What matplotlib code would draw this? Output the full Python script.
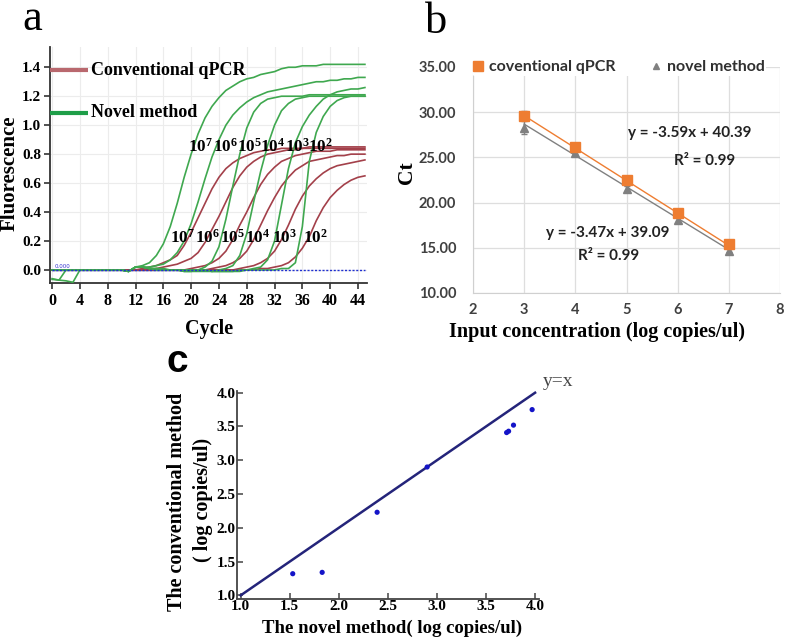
import matplotlib
matplotlib.use("Agg")
import matplotlib.pyplot as plt
from matplotlib.lines import Line2D

plt.rcParams['font.family'] = ['Liberation Serif', 'DejaVu Serif']
plt.rcParams['mathtext.fontset'] = 'custom'
plt.rcParams['mathtext.rm'] = 'Liberation Serif'
plt.rcParams['mathtext.bf'] = 'Liberation Serif:bold'

# ---------------- Panel a: amplification curves ----------------
cycles = list(range(46))

novel_curves = {
    "1e7": [0.0] * 11 + [-0.01, 0.02, 0.03, 0.05, 0.10, 0.18, 0.30, 0.46, 0.64, 0.80, 0.94, 1.05, 1.13, 1.19,
                         1.24, 1.27, 1.30, 1.32, 1.33, 1.35, 1.36, 1.37, 1.39, 1.40, 1.40, 1.41, 1.41, 1.41,
                         1.42, 1.42, 1.42, 1.42, 1.42, 1.42, 1.42],
    "1e6": [0.0] * 11 + [-0.01, 0.02, 0.02, 0.02, 0.03, 0.04, 0.07, 0.12, 0.20, 0.32, 0.47, 0.63, 0.78, 0.90,
                         1.00, 1.07, 1.12, 1.16, 1.19, 1.21, 1.23, 1.24, 1.25, 1.26, 1.27, 1.28, 1.29, 1.30,
                         1.30, 1.31, 1.31, 1.32, 1.32, 1.33, 1.33],
    "1e5": [0.0] * 11 + [-0.01, 0.02, 0.02, 0.01, 0.01, 0.01, 0.0, 0.0, -0.01, -0.01, 0.0, 0.02, 0.06, 0.16,
                         0.35, 0.58, 0.80, 0.98, 1.09, 1.15, 1.18, 1.19, 1.20, 1.20, 1.20, 1.20, 1.21, 1.21,
                         1.21, 1.21, 1.21, 1.21, 1.21, 1.21, 1.21],
    "1e4": [0.0] * 11 + [-0.01, 0.02, 0.02, 0.01, 0.01, 0.0, 0.0, 0.0, -0.01, -0.01, -0.01, -0.01, -0.01, 0.0,
                         0.01, 0.03, 0.10, 0.25, 0.47, 0.68, 0.86, 1.00, 1.10, 1.15, 1.18, 1.19, 1.20, 1.20,
                         1.20, 1.20, 1.20, 1.20, 1.20, 1.20, 1.20],
    "1e3": [-0.06, -0.07, 0.0] + [0.0] * 8 + [-0.01, 0.02, 0.02, 0.01] + [0.0] * 8 +
           [-0.01, -0.01, -0.01, -0.01, 0.0, 0.0, 0.01, 0.02, 0.07, 0.20, 0.45, 0.70, 0.88, 0.99, 1.07,
            1.13, 1.18, 1.21, 1.23, 1.24, 1.25, 1.25, 1.26],
    "1e2": [-0.065, -0.07, -0.075, -0.085, 0.0] + [0.0] * 6 + [-0.01, 0.02, 0.02, 0.01] + [0.0] * 8 +
           [-0.01, -0.01, -0.01, -0.01, -0.01, 0.0, 0.0, 0.0, 0.0, 0.0, 0.01, 0.01, 0.05, 0.30, 0.75,
            0.95, 1.06, 1.13, 1.17, 1.19, 1.20, 1.20, 1.20],
}

conv_curves = {
    "1e7": [0.0] * 13 + [0.01, 0.02, 0.03, 0.05, 0.07, 0.10, 0.17, 0.26, 0.36, 0.46, 0.56, 0.64, 0.70, 0.74,
                         0.77, 0.79, 0.81, 0.82, 0.83, 0.83, 0.84, 0.84, 0.84, 0.84, 0.85, 0.85, 0.85, 0.85,
                         0.85, 0.85, 0.85, 0.85, 0.85],
    "1e6": [0.0] * 15 + [0.01, 0.02, 0.03, 0.04, 0.06, 0.08, 0.12, 0.19, 0.28, 0.37, 0.47, 0.57, 0.65, 0.71,
                         0.75, 0.78, 0.80, 0.81, 0.82, 0.83, 0.83, 0.84, 0.84, 0.84, 0.84, 0.84, 0.84, 0.84,
                         0.84, 0.84, 0.84],
    "1e5": [0.0] * 20 + [0.01, 0.02, 0.03, 0.05, 0.08, 0.13, 0.21, 0.31, 0.40, 0.50, 0.59, 0.66, 0.71, 0.75,
                         0.77, 0.79, 0.80, 0.81, 0.82, 0.82, 0.82, 0.83, 0.83, 0.83, 0.83, 0.83],
    "1e4": [0.0] * 23 + [0.01, 0.02, 0.03, 0.05, 0.08, 0.13, 0.21, 0.31, 0.41, 0.50, 0.58, 0.64, 0.69, 0.72,
                         0.75, 0.76, 0.77, 0.78, 0.79, 0.79, 0.80, 0.80, 0.80],
    "1e3": [0.0] * 27 + [0.01, 0.02, 0.03, 0.05, 0.08, 0.13, 0.21, 0.31, 0.42, 0.51, 0.58, 0.63, 0.67, 0.70,
                         0.72, 0.73, 0.74, 0.75, 0.76],
    "1e2": [0.0] * 30 + [0.01, 0.01, 0.02, 0.03, 0.05, 0.09, 0.15, 0.23, 0.34, 0.43, 0.50, 0.55, 0.59, 0.62,
                         0.64, 0.65],
}

exponents = ["7", "6", "5", "4", "3", "2"]
upper_label_x = [19.6, 23.1, 26.6, 29.9, 33.5, 36.8]
lower_label_x = [17.0, 20.6, 24.2, 27.7, 31.6, 36.1]

# ---------------- Panel b: standard curves ----------------
log_conc = [3, 4, 5, 6, 7]
ct_conv = [29.6, 26.2, 22.5, 18.8, 15.4]
ct_conv_err = [0.5, 0.2, 0.2, 0.2, 0.2]
ct_novel = [28.3, 25.5, 21.5, 18.1, 14.7]
ct_novel_err = [0.7, 0.2, 0.3, 0.4, 0.2]
fit_conv = (-3.59, 40.39)
fit_novel = (-3.47, 39.09)

# ---------------- Panel c: method comparison ----------------
novel_log = [1.53, 1.83, 2.39, 2.90, 3.71, 3.73, 3.78, 3.97]
conv_log = [1.32, 1.34, 2.23, 2.90, 3.41, 3.43, 3.52, 3.75]

W, H = 787, 640
fig = plt.figure(figsize=(W / 100, H / 100), dpi=100)


def fx(px):
    return px / W


def fy(py):
    return 1 - py / H


# ===== Panel a =====
axa = fig.add_axes([fx(50), fy(283), 317 / W, 236 / H])
green = '#3fa84f'
red = '#a3404a'
for k, v in conv_curves.items():
    axa.plot(cycles, v, color=red, lw=1.2, zorder=3)
for k, v in novel_curves.items():
    axa.plot(cycles, v, color=green, lw=1.2, zorder=3)
axa.plot([0, 45], [0, 0], color='#2030d0', lw=1.0, ls=(0, (1.5, 1.2)), zorder=4)
axa.plot([0, 20], [0, 0], color='#302060', lw=1.0, zorder=2)
axa.text(0.3, 0.012, "0.000", fontsize=4, color='#3030d0', family='DejaVu Sans', zorder=5)

axa.set_xlim(-0.3, 45.3)
axa.set_ylim(-0.09, 1.54)
axa.set_xticks(range(0, 45, 4))
axa.set_yticks([0.0, 0.2, 0.4, 0.6, 0.8, 1.0, 1.2, 1.4])
axa.set_yticklabels(["0.0", "0.2", "0.4", "0.6", "0.8", "1.0", "1.2", "1.4"])
for s in ['top', 'right']:
    axa.spines[s].set_visible(False)
for s in ['left', 'bottom']:
    axa.spines[s].set_color('#333333')
    axa.spines[s].set_linewidth(1.3)
axa.tick_params(direction='out', length=4, width=1.2, colors='#333333', labelcolor='black', labelsize=11.5)
axa.tick_params(axis='y', labelsize=11, pad=2.5)
for lab in axa.get_xticklabels() + axa.get_yticklabels():
    lab.set_fontweight('bold')
axa.grid(True, color='#ececec', lw=0.8, zorder=0)
axa.set_axisbelow(True)

# in-plot legend
axa.plot([-0.3, 5.2], [1.38, 1.38], color='#b9686e', lw=3, solid_capstyle='butt', clip_on=False, zorder=5)
axa.plot([-0.3, 5.2], [1.085, 1.085], color='#1e9e48', lw=3, solid_capstyle='butt', clip_on=False, zorder=5)
axa.text(5.6, 1.38, "Conventional qPCR", fontsize=13, fontweight='bold', va='center', ha='left', zorder=6)
axa.text(5.6, 1.085, "Novel method", fontsize=13, fontweight='bold', va='center', ha='left', zorder=6)

for e, xu, xl in zip(exponents, upper_label_x, lower_label_x):
    axa.text(xu, 0.85, r"$\mathbf{10^{%s}}$" % e, fontsize=12.3, ha='left', va='center', zorder=6)
    axa.text(xl, 0.22, r"$\mathbf{10^{%s}}$" % e, fontsize=12.3, ha='left', va='center', zorder=6)

fig.text(fx(10), fy(173), "Fluorescence", rotation=90, fontsize=15, fontweight='bold', ha='center', va='center')
fig.text(fx(209), fy(329), "Cycle", fontsize=14.5, fontweight='bold', ha='center', va='center')
fig.text(fx(32), fy(30), "a", fontsize=32, ha='center', va='baseline')

# ===== Panel b =====
axb = fig.add_axes([fx(473), fy(293), 307 / W, 226 / H])
orange = '#ee7d31'
gray = '#808080'
xs = [min(log_conc), max(log_conc)]
axb.plot(xs, [fit_conv[0] * x + fit_conv[1] for x in xs], color=orange, lw=1.0, zorder=3)
axb.plot(xs, [fit_novel[0] * x + fit_novel[1] for x in xs], color=gray, lw=1.0, zorder=3)
axb.errorbar(log_conc, ct_novel, yerr=ct_novel_err, fmt='^', color=gray, ms=6, capsize=2.5,
             elinewidth=1.0, zorder=4)
axb.errorbar(log_conc, ct_conv, yerr=ct_conv_err, fmt='s', color=orange, ms=6.5, capsize=2.5,
             elinewidth=1.0, ecolor='#707070', zorder=5)
axb.set_xlim(2, 8)
axb.set_ylim(10, 35)
axb.set_xticks(range(2, 9))
axb.set_yticks([10, 15, 20, 25, 30, 35])
axb.set_yticklabels(["10.00", "15.00", "20.00", "25.00", "30.00", "35.00"])
axb.grid(True, color='#dedede', lw=0.9, zorder=0)
axb.set_axisbelow(True)
for s in ['top', 'right']:
    axb.spines[s].set_visible(False)
for s in ['left', 'bottom']:
    axb.spines[s].set_color('#d0d0d0')
axb.tick_params(length=0, pad=12, labelsize=10.5, labelcolor='#404040')
for lab in axb.get_xticklabels() + axb.get_yticklabels():
    lab.set_family(['Lato', 'DejaVu Sans'])
    lab.set_fontweight('bold')
axb.tick_params(axis='x', pad=7)

handles = [Line2D([], [], marker='s', ls='none', color=orange, ms=6.5),
           Line2D([], [], marker='^', ls='none', color=gray, ms=5)]
leg = axb.legend(handles, ["coventional qPCR", "novel method"], loc='center', bbox_to_anchor=(0.476, 1.0),
                 ncol=2, frameon=True, facecolor='white', edgecolor='none', framealpha=1,
                 handlelength=0.6, handletextpad=0.4, columnspacing=2.2, borderpad=0.1,
                 prop={'family': ['Lato', 'DejaVu Sans'], 'size': 11.5, 'weight': 'bold'})
for t in leg.get_texts():
    t.set_color('#303030')

eq_font = {'family': ['Lato', 'DejaVu Sans'], 'size': 11, 'weight': 'bold', 'color': '#222222'}
axb.text(6.24, 27.7, "y = -3.59x + 40.39", ha='center', va='center', **eq_font)
axb.text(6.53, 24.6, "R² = 0.99", ha='center', va='center', **eq_font)
axb.text(4.64, 16.6, "y = -3.47x + 39.09", ha='center', va='center', **eq_font)
axb.text(4.64, 14.1, "R² = 0.99", ha='center', va='center', **eq_font)

fig.text(fx(407), fy(173), "Ct", rotation=90, fontsize=15.5, fontweight='bold', ha='center', va='center')
fig.text(fx(597), fy(332), "Input concentration (log copies/ul)", fontsize=14.5, fontweight='bold',
         ha='center', va='center')
fig.text(fx(436), fy(33), "b", fontsize=32, ha='center', va='baseline')

# ===== Panel c =====
axc = fig.add_axes([fx(237), fy(598.7), 302 / W, 208 / H])
axc.plot([1.0, 4.0], [1.0, 4.0], color='#24247a', lw=1.8, zorder=3)
axc.scatter(novel_log, conv_log, s=14, color='#1414c8', zorder=4, edgecolors='none')
axc.set_xlim(0.962, 4.04)
axc.set_ylim(0.95, 4.03)
axc.set_xticks([1.0, 1.5, 2.0, 2.5, 3.0, 3.5, 4.0])
axc.set_yticks([1.0, 1.5, 2.0, 2.5, 3.0, 3.5, 4.0])
axc.set_xticklabels(["1.0", "1.5", "2.0", "2.5", "3.0", "3.5", "4.0"])
axc.set_yticklabels(["1.0", "1.5", "2.0", "2.5", "3.0", "3.5", "4.0"])
for s in ['top', 'right']:
    axc.spines[s].set_visible(False)
for s in ['left', 'bottom']:
    axc.spines[s].set_color('#444444')
    axc.spines[s].set_linewidth(1.3)
axc.tick_params(direction='in', length=4, width=1.1, colors='#444444', labelcolor='black',
                labelsize=11, pad=1)
for lab in axc.get_xticklabels() + axc.get_yticklabels():
    lab.set_fontweight('bold')
axc.text(4.23, 4.16, "y=x", fontsize=14, color='#444444', ha='center', va='center', clip_on=False)

fig.text(fx(177), fy(502), "The conventional method", rotation=90, fontsize=14.5, fontweight='bold',
         ha='center', va='center')
fig.text(fx(203), fy(500), "( log copies/ul)", rotation=90, fontsize=14.5, fontweight='bold',
         ha='center', va='center')
fig.text(fx(392), fy(628), "The novel method( log copies/ul)", fontsize=13.5, fontweight='bold',
         ha='center', va='center')
fig.text(fx(177), fy(372), "c", fontsize=28, fontweight='bold', family=['Liberation Sans', 'DejaVu Sans'],
         ha='center', va='baseline')

fig.savefig("out.png", dpi=100)
